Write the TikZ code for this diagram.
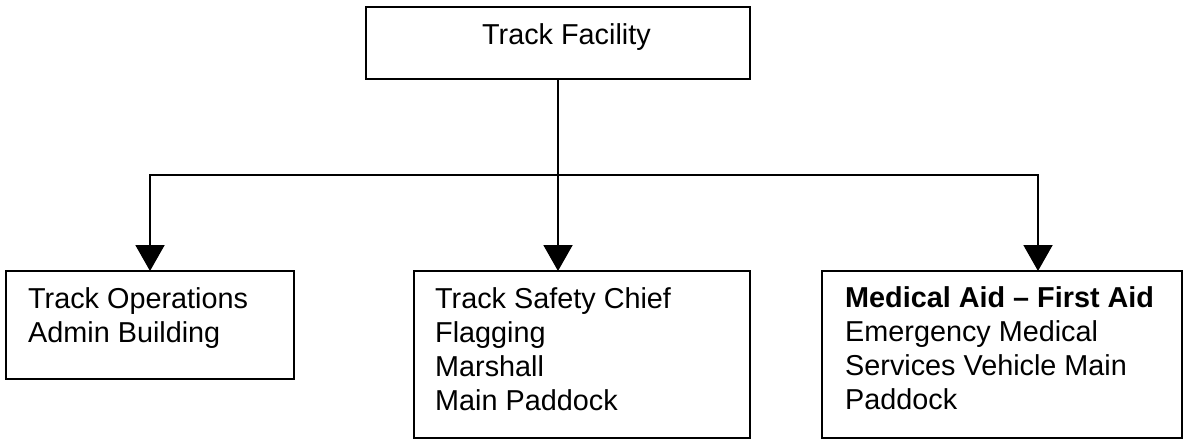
\documentclass[tikz,border=0pt]{standalone}
\usepackage{fontspec}
\setmainfont{Liberation Sans}
\usetikzlibrary{arrows.meta,positioning}

\tikzset{
  unitbox/.style={draw, rectangle, line width=2pt, outer sep=0pt, inner sep=0pt, anchor=north west},
  entry/.style={anchor=north west, align=left, inner sep=0pt, font=\fontsize{28.8}{34}\selectfont},
  link/.style={line width=2pt},
  drop/.style={link, -{Triangle[width=29pt,length=26pt]}},
}

\begin{document}
\begin{tikzpicture}[x=1pt, y=-1pt]
\useasboundingbox (0,0) rectangle (1184,441);

\node[unitbox, minimum width=384pt, minimum height=72pt,
  label={[entry, xshift=116pt, yshift=-16.4pt]north west:Track Facility}] (facility) at (366,7) {};

\node[unitbox, minimum width=288pt, minimum height=108pt,
  label={[entry, xshift=22pt, yshift=-16.4pt]north west:Track Operations\\Admin Building}] (ops) at (6,271) {};

\node[unitbox, minimum width=336pt, minimum height=167pt,
  label={[entry, xshift=21pt, yshift=-16pt]north west:Track Safety Chief\\Flagging\\Marshall\\Main Paddock}] (safety) at (414,271) {};

\node[unitbox, minimum width=360pt, minimum height=167pt,
  label={[entry, xshift=23pt, yshift=-15.4pt]north west:\textbf{Medical Aid -- First Aid}\\Emergency Medical\\Services Vehicle Main\\Paddock}] (med) at (822,271) {};

\coordinate (split) at (facility.south |- 0,175);

\draw[link] (facility.south) -- (split);
\foreach \b/\dx in {ops/0, safety/-24, med/36}
  \draw[drop] (split) -| ([xshift=\dx pt]\b.north);

\end{tikzpicture}
\end{document}
